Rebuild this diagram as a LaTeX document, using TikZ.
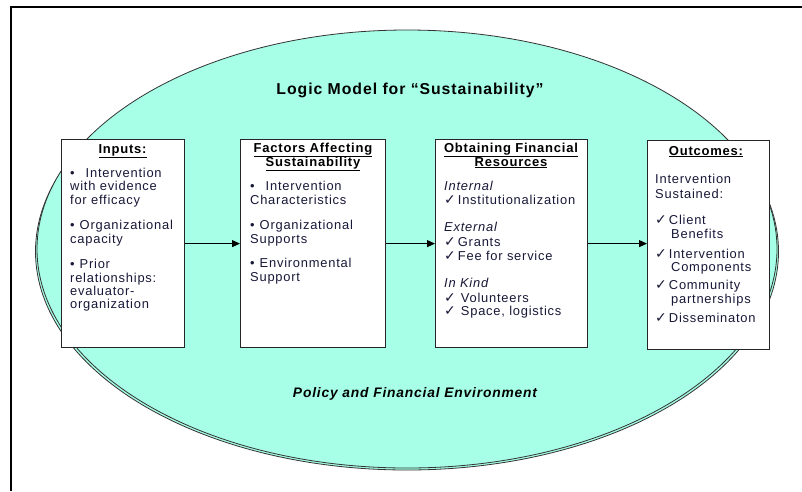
\documentclass[tikz,border=0pt]{standalone}
\usepackage{fontspec}
\setmainfont{Liberation Sans}[LetterSpace=6]
\newfontfamily\sym{DejaVu Sans}
\usetikzlibrary{arrows.meta}
\definecolor{aqua}{HTML}{A6FFE6}
\definecolor{ink}{HTML}{181838}
\newcommand{\ck}{{\sym\fontsize{14}{14}\selectfont ✓}}
\tikzset{
  box/.style={draw=black!85, line width=1.2pt, fill=white, inner sep=0pt, anchor=north west},
  ln/.style={anchor=base west, inner sep=0pt, font=\fontsize{12.9}{14}\selectfont, text=ink},
  hd/.style={anchor=base, inner sep=0pt, font=\fontsize{13}{14}\selectfont\bfseries, text=black},
  flow/.style={-{Triangle[length=8pt,width=7pt]}, line width=1pt, black},
  rim/.style={draw=black!80, line width=0.8pt, fill=aqua}
}
\begin{document}
\begin{tikzpicture}[x=1pt,y=-1pt]
\useasboundingbox (0,0) rectangle (802,491);
\fill[white] (0,0) rectangle (802,491);
\draw[line width=2pt] (11,491) -- (11,7) -- (802,7);
% environment ellipse with shadow
\draw[rim] (407,251.5) ellipse [x radius=371.5, y radius=218.5];
\draw[rim] (407,249) ellipse [x radius=370, y radius=219];
% title
\node[anchor=base, inner sep=0pt, font=\fontsize{15.8}{18}\selectfont\bfseries] (title) at (410,94) {Logic Model for “Sustainability”};
\node[anchor=base, inner sep=0pt, font=\fontsize{13.8}{16}\selectfont\bfseries\itshape] (env) at (415,397) {Policy and Financial Environment};
% boxes
\node[box, minimum width=123pt, minimum height=208pt] (in) at (61,139) {};
\node[box, minimum width=145pt, minimum height=208pt] (fac) at (240,139) {};
\node[box, minimum width=152pt, minimum height=208pt] (fin) at (435,139) {};
\node[box, minimum width=122pt, minimum height=209pt] (out) at (647,140) {};
% arrows
\draw[flow] (in.east) -- (fac.west);
\draw[flow] (fac.east) -- (fin.west);
\draw[flow] (fin.east) -- (out.west |- fin.east);
% Inputs
\node[hd] (inh) at (122.5,153) {\underline{Inputs:}};
\node[ln] (in1) at (70,177) {•\hspace{11pt}Intervention};
\node[ln] (in2) at (70,190) {with evidence};
\node[ln] (in3) at (70,204) {for efficacy};
\node[ln] (in4) at (70,229) {•\hspace{5pt}Organizational};
\node[ln] (in5) at (70,243) {capacity};
\node[ln] (in6) at (70,268) {•\hspace{5pt}Prior};
\node[ln] (in7) at (70,282) {relationships:};
\node[ln] (in8) at (70,295) {evaluator-};
\node[ln] (in9) at (70,308) {organization};
% Factors
\node[hd] (fach1) at (313,152) {\underline{Factors Affecting}};
\node[hd] (fach2) at (313,166) {\underline{Sustainability}};
\node[ln] (fa1) at (250,190) {•\hspace{11pt}Intervention};
\node[ln] (fa2) at (250,204) {Characteristics};
\node[ln] (fa3) at (250,229) {•\hspace{5pt}Organizational};
\node[ln] (fa4) at (250,243) {Supports};
\node[ln] (fa5) at (250,267) {•\hspace{5pt}Environmental};
\node[ln] (fa6) at (250,281) {Support};
% Obtaining
\node[hd] (finh1) at (511,152) {\underline{Obtaining Financial}};
\node[hd] (finh2) at (511,166) {\underline{Resources}};
\node[ln] (fi1) at (444,190) {\itshape Internal};
\node[ln] (fi2) at (444,204) {\ck\hspace{2pt}Institutionalization};
\node[ln] (fi3) at (444,231) {\itshape External};
\node[ln] (fi4) at (444,246) {\ck\hspace{2pt}Grants};
\node[ln] (fi5) at (444,260) {\ck\hspace{2pt}Fee for service};
\node[ln] (fi6) at (444,287) {\itshape In Kind};
\node[ln] (fi7) at (444,302) {\ck\hspace{5pt}Volunteers};
\node[ln] (fi8) at (444,315) {\ck\hspace{5pt}Space, logistics};
% Outcomes
\node[hd] (outh) at (706,155) {\underline{Outcomes:}};
\node[ln] (ou1) at (655,183) {Intervention};
\node[ln] (ou2) at (655,198) {Sustained:};
\node[ln] (ou3) at (655,224) {\ck\hspace{2pt}Client};
\node[ln] (ou4) at (671,238) {Benefits};
\node[ln] (ou5) at (655,258) {\ck\hspace{2pt}Intervention};
\node[ln] (ou6) at (671,271) {Components};
\node[ln] (ou7) at (655,289) {\ck\hspace{2pt}Community};
\node[ln] (ou8) at (671,303) {partnerships};
\node[ln] (ou9) at (655,322) {\ck\hspace{2pt}Disseminaton};
\end{tikzpicture}
\end{document}
